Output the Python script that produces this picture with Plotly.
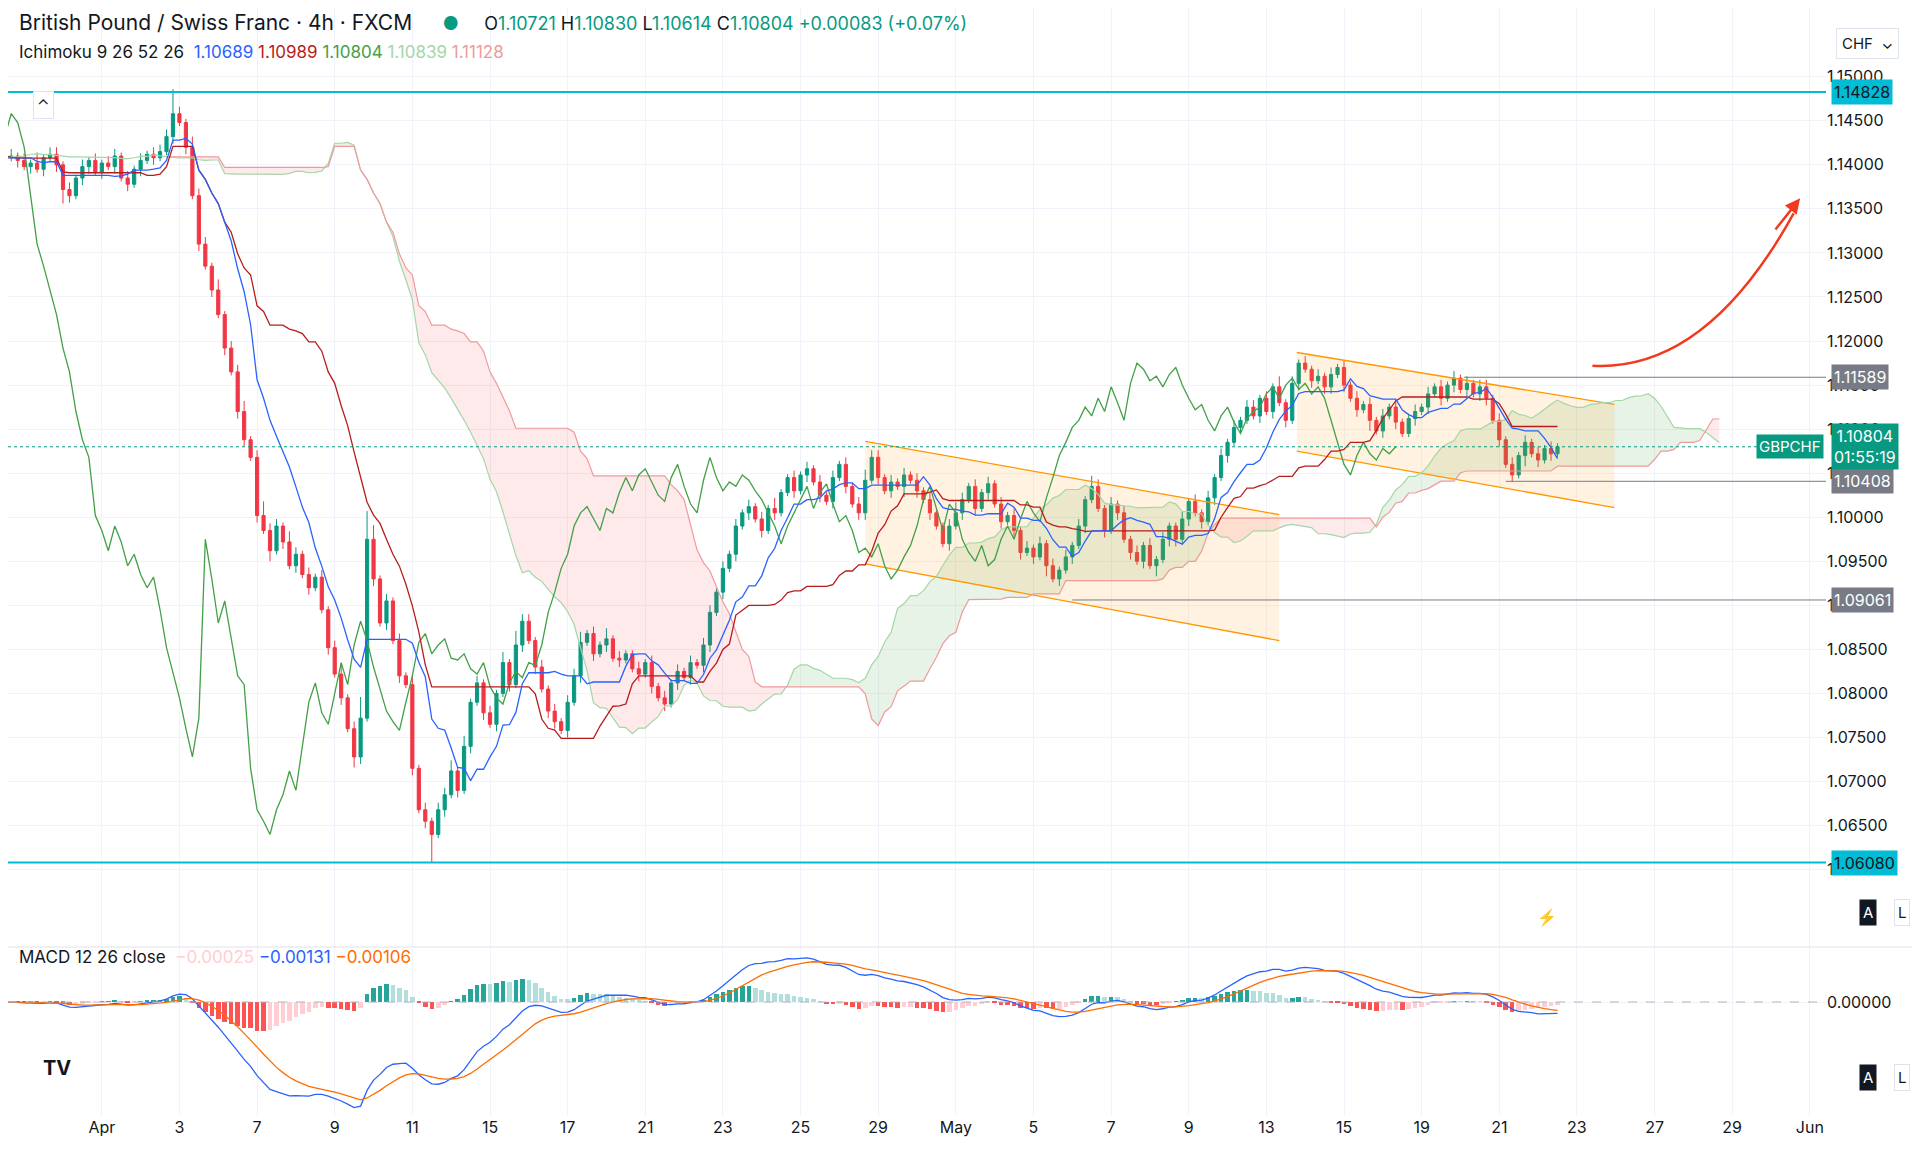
import numpy as np
import pandas as pd
import plotly.graph_objects as go

# ---- data (4h bars, GBPCHF) ----
pre_close = [1.1390, 1.1402, 1.1395, 1.1410, 1.1420, 1.1412, 1.1405, 1.1398, 1.1415, 1.1425, 1.1418, 1.1408, 1.1400,
             1.1392, 1.1405, 1.1412, 1.1420, 1.1415, 1.1402, 1.1395, 1.1388, 1.1400, 1.1410, 1.1418, 1.1425, 1.1430,
             1.1422, 1.1415, 1.1408, 1.1412, 1.1405, 1.1398, 1.1402, 1.1410, 1.1415, 1.1420, 1.1412, 1.1405, 1.1400,
             1.1395, 1.1402, 1.1408, 1.1415, 1.1410, 1.1405, 1.1412, 1.1418, 1.1410, 1.1402, 1.1398, 1.1405, 1.1408]

close = [
    1.1410, 1.1405, 1.1398, 1.1402, 1.1395, 1.1408, 1.1412, 1.1400, 1.1372, 1.1365, 1.1385, 1.1398,
    1.1405, 1.1392, 1.1402, 1.1398, 1.1410, 1.1385, 1.1378, 1.1395, 1.1405, 1.1412, 1.1408, 1.1415,
    1.1432, 1.1458, 1.1448, 1.1420, 1.1365, 1.1310, 1.1285, 1.1258, 1.1230, 1.1192, 1.1165, 1.1120,
    1.1088, 1.1068, 1.1002, 1.0985, 1.0962, 1.0990, 1.0972, 1.0945, 1.0958, 1.0935, 1.0920, 1.0932,
    1.0895, 1.0852, 1.0822, 1.0795, 1.0760, 1.0728, 1.0772, 1.0975, 1.0930, 1.0880, 1.0905, 1.0860,
    1.0820, 1.0810, 1.0715, 1.0668, 1.0655, 1.0640, 1.0668, 1.0685, 1.0712, 1.0690, 1.0740, 1.0790,
    1.0812, 1.0778, 1.0765, 1.0800, 1.0835, 1.0810, 1.0855, 1.0882, 1.0860, 1.0830, 1.0805, 1.0780,
    1.0768, 1.0758, 1.0790, 1.0820, 1.0858, 1.0868, 1.0845, 1.0855, 1.0862, 1.0840, 1.0838, 1.0845,
    1.0828, 1.0822, 1.0835, 1.0808, 1.0795, 1.0788, 1.0812, 1.0825, 1.0818, 1.0835, 1.0832, 1.0855,
    1.0892, 1.0915, 1.0942, 1.0958, 1.0990, 1.1005, 1.1012, 1.0998, 1.0985, 1.1010, 1.1005, 1.1028,
    1.1045, 1.1030, 1.1048, 1.1055, 1.1040, 1.1025, 1.1018, 1.1045, 1.1060, 1.1035, 1.1015, 1.1005,
    1.1042, 1.1068, 1.1045, 1.1030, 1.1040, 1.1035, 1.1048, 1.1042, 1.1030, 1.1020, 1.1005, 1.0990,
    1.0970, 1.0990, 1.1005, 1.1020, 1.1035, 1.1010, 1.1028, 1.1038, 1.1015, 1.0995, 1.1002, 1.0985,
    1.0960, 1.0965, 1.0955, 1.0970, 1.0945, 1.0930, 1.0940, 1.0955, 1.0968, 1.0990, 1.1020, 1.1035,
    1.1010, 1.0985, 1.1015, 1.1005, 1.0975, 1.0960, 1.0950, 1.0968, 1.0945, 1.0952, 1.0975, 1.0990,
    1.0975, 1.0998, 1.1018, 1.1005, 1.0995, 1.1022, 1.1045, 1.1070, 1.1085, 1.1102, 1.1110, 1.1125,
    1.1115, 1.1135, 1.1120, 1.1148, 1.1130, 1.1110, 1.1152, 1.1175, 1.1168, 1.1155, 1.1160, 1.1148,
    1.1162, 1.1170, 1.1150, 1.1135, 1.1122, 1.1128, 1.1110, 1.1098, 1.1115, 1.1125, 1.1108, 1.1095,
    1.1112, 1.1120, 1.1125, 1.1140, 1.1148, 1.1135, 1.1150, 1.1158, 1.1145, 1.1152, 1.1140, 1.1148,
    1.1135, 1.1110, 1.1088, 1.1060, 1.1048, 1.1070, 1.1085, 1.1072, 1.1065, 1.1078, 1.1072, 1.1080,
]

# wick sizes in units of 0.0004
pre_hi_wick = "1212121212121" "2121212121212" "1212121212121" "2121212121212"
pre_lo_wick = "2121212121212" "1212121212121" "2121212121212" "1212121212121"
hi_wick = ("212131221212" "121221212122" "272132213122" "312422132121" "212312684121"
           "213121223131" "212131422121" "212231213121" "121212121212" "212121212131"
           "121212121212" "322121212121" "123212121212" "121212121213" "212121212121"
           "121212121212" "212131212121" "212121212121" "121212121212" "212121212121")
lo_wick = ("121212124212" "212121212121" "121212121212" "212131212121" "121213212121"
           "212128121212" "121212121212" "212121212121" "121212121212" "212121212121"
           "121212121212" "212121312121" "121212121212" "212131212121" "121212121312"
           "212121212121" "121212121212" "212121312121" "121212121212" "212121312121")

x_ticks = [14 + 12 * k for k in range(23)]
x_labels = ["Apr", "3", "7", "9", "11", "15", "17", "21", "23", "25", "29", "May",
            "5", "7", "9", "13", "15", "19", "21", "23", "27", "29", "Jun"]
y_ticks = [1.060, 1.065, 1.070, 1.075, 1.080, 1.085, 1.090, 1.095, 1.100,
           1.105, 1.110, 1.115, 1.120, 1.125, 1.130, 1.135, 1.140, 1.145, 1.150]

levels_cyan = [1.14828, 1.06080]
levels_gray = [(1.11589, 224.5), (1.10408, 231), (1.09061, 164)]
channel1 = dict(x0=132, x1=196, up0=1.1086, up1=1.1003, lo0=1.0947, lo1=1.0860)
channel2 = dict(x0=198.7, x1=247.8, up0=1.1187, up1=1.1128, lo0=1.1075, lo1=1.1011)

# ---- build OHLC ----
allc = np.array(pre_close + close)
n_pre = len(pre_close)
xs = np.arange(len(allc)) - n_pre
opens = np.concatenate([[allc[0]], allc[:-1]])
hw = np.array([int(c) for c in pre_hi_wick + hi_wick]) * 0.0004
lw = np.array([int(c) for c in pre_lo_wick + lo_wick]) * 0.0004
highs = np.maximum(opens, allc) + hw
lows = np.minimum(opens, allc) - lw
df = pd.DataFrame(dict(x=xs, o=opens, h=highs, l=lows, c=allc))

def mid(p):
    return (df.h.rolling(p).max() + df.l.rolling(p).min()) / 2

tenkan = mid(9)
kijun = mid(26)
spanA = (tenkan + kijun) / 2
spanB = mid(52)
shift = 25
xf = df.x + shift

ema12 = df.c.ewm(span=12, adjust=False).mean()
ema26 = df.c.ewm(span=26, adjust=False).mean()
macd = ema12 - ema26
signal = macd.ewm(span=9, adjust=False).mean()
hist = macd - signal

UP, DN = "#089981", "#f23645"
fig = go.Figure()

# cloud fill segments
a, b, fx = spanA.values, spanB.values, xf.values
valid = ~np.isnan(a) & ~np.isnan(b)
idx = np.where(valid)[0]
segs, cur = [], [idx[0]]
for i in idx[1:]:
    if (a[i] >= b[i]) == (a[cur[-1]] >= b[cur[-1]]):
        cur.append(i)
    else:
        cur.append(i)
        segs.append(cur)
        cur = [i]
segs.append(cur)
for s in segs:
    green = a[s[0]] >= b[s[0]]
    fig.add_trace(go.Scatter(x=fx[s], y=b[s], mode="lines", line=dict(width=0), hoverinfo="skip", showlegend=False))
    fig.add_trace(go.Scatter(x=fx[s], y=a[s], mode="lines", line=dict(width=0), fill="tonexty",
                             fillcolor="rgba(67,160,71,0.13)" if green else "rgba(242,54,69,0.11)",
                             hoverinfo="skip", showlegend=False))

# channels
for ch in (channel1, channel2):
    fig.add_trace(go.Scatter(x=[ch["x0"], ch["x1"], ch["x1"], ch["x0"], ch["x0"]],
                             y=[ch["up0"], ch["up1"], ch["lo1"], ch["lo0"], ch["up0"]],
                             mode="lines", line=dict(width=0), fill="toself",
                             fillcolor="rgba(255,152,0,0.12)", showlegend=False, hoverinfo="skip"))
    for k in ("up", "lo"):
        fig.add_trace(go.Scatter(x=[ch["x0"], ch["x1"]], y=[ch[k + "0"], ch[k + "1"]], mode="lines",
                                 line=dict(color="#ff9800", width=1.3), showlegend=False, hoverinfo="skip"))

fig.add_trace(go.Scatter(x=fx, y=spanA, mode="lines", line=dict(color="#a5d6a7", width=1.2), showlegend=False))
fig.add_trace(go.Scatter(x=fx, y=spanB, mode="lines", line=dict(color="#ef9a9a", width=1.2), showlegend=False))
fig.add_trace(go.Scatter(x=df.x - shift, y=df.c, mode="lines", line=dict(color="#43a047", width=1.3), showlegend=False))
fig.add_trace(go.Scatter(x=df.x, y=kijun, mode="lines", line=dict(color="#b71c1c", width=1.3), showlegend=False))
fig.add_trace(go.Scatter(x=df.x, y=tenkan, mode="lines", line=dict(color="#2962ff", width=1.3), showlegend=False))

fig.add_trace(go.Candlestick(x=df.x, open=df.o, high=df.h, low=df.l, close=df.c,
                             increasing=dict(line=dict(color=UP, width=1), fillcolor=UP),
                             decreasing=dict(line=dict(color=DN, width=1), fillcolor=DN),
                             whiskerwidth=0, showlegend=False))

# MACD
hcol = []
for i in range(len(hist)):
    prev = hist.iloc[i - 1] if i else 0
    v = hist.iloc[i]
    if v >= 0:
        hcol.append("#26a69a" if v >= prev else "#b2dfdb")
    else:
        hcol.append("#ff5252" if v <= prev else "#ffcdd2")
fig.add_trace(go.Bar(x=df.x, y=hist, marker=dict(color=hcol, line=dict(width=0)), width=0.7,
                     xaxis="x2", yaxis="y2", showlegend=False))
fig.add_trace(go.Scatter(x=df.x, y=macd, mode="lines", line=dict(color="#2962ff", width=1.3),
                         xaxis="x2", yaxis="y2", showlegend=False))
fig.add_trace(go.Scatter(x=df.x, y=signal, mode="lines", line=dict(color="#ff6d00", width=1.3),
                         xaxis="x2", yaxis="y2", showlegend=False))
m_lo = min(macd.min(), signal.min()) * 1.08
m_hi = -m_lo * 55 / 114

shapes = []
for lv in levels_cyan:
    shapes.append(dict(type="line", xref="paper", x0=0, x1=1, y0=lv, y1=lv, line=dict(color="#00bcd4", width=2)))
for lv, x0 in levels_gray:
    shapes.append(dict(type="line", xref="x", x0=x0, x1=280.5, y0=lv, y1=lv, line=dict(color="#787b86", width=1)))
shapes.append(dict(type="line", xref="paper", x0=0, x1=1, y0=close[-1], y1=close[-1],
                   line=dict(color=UP, width=1, dash="dot")))
shapes.append(dict(type="line", xref="x2", yref="y2", x0=-0.5, x1=280.5, y0=0, y1=0,
                   line=dict(color="#b2b5be", width=1, dash="dash")))
shapes.append(dict(type="line", xref="paper", yref="paper", x0=0, x1=1.06, y0=0.1525, y1=0.1525,
                   line=dict(color="#e0e3eb", width=1)))
shapes.append(dict(type="path", xref="x", yref="y", path="M 244.4,1.1172 Q 262,1.1165 275.5,1.1345",
                   line=dict(color="#f23a1f", width=2.5)))
fig.update_layout(shapes=shapes)

ann = []
def tag(y, text, bg, fc="white", yref="y"):
    ann.append(dict(xref="paper", x=1.003, y=y, yref=yref, text=text, showarrow=False, xanchor="left",
                    bgcolor=bg, font=dict(color=fc, size=16), borderpad=2))
tag(1.14828, "1.14828", "#00bcd4", "#131722")
tag(1.06080, "1.06080", "#00bcd4", "#131722")
for lv, _ in levels_gray:
    tag(lv, f"{lv:.5f}", "#787b86")
tag(close[-1], "1.10804<br>01:55:19", UP)
ann.append(dict(xref="paper", x=0.999, y=close[-1], text="GBPCHF", showarrow=False, xanchor="right",
                bgcolor=UP, font=dict(color="white", size=15), borderpad=2))
ann.append(dict(x=276.5, y=1.1362, ax=272.5, ay=1.1325, xref="x", yref="y", axref="x", ayref="y", text="",
                showarrow=True, arrowhead=2, arrowsize=1.2, arrowwidth=2.5, arrowcolor="#f23a1f"))
g = "#089981"
ann.append(dict(xref="paper", yref="paper", x=0.005, y=1.0, xanchor="left", yanchor="top", showarrow=False,
                align="left",
                text=("<span style='font-size:21px;color:#131722'>British Pound / Swiss Franc · 4h · FXCM</span>"
                      "      <span style='color:#089981'>●</span>     "
                      f"O<span style='color:{g}'>1.10721</span> H<span style='color:{g}'>1.10830</span> "
                      f"L<span style='color:{g}'>1.10614</span> C<span style='color:{g}'>1.10804</span> "
                      f"<span style='color:{g}'>+0.00083 (+0.07%)</span>"),
                font=dict(size=18, color="#131722")))
ann.append(dict(xref="paper", yref="paper", x=0.005, y=0.9715, xanchor="left", showarrow=False,
                text=("Ichimoku 9 26 52 26  <span style='color:#2962ff'>1.10689</span> "
                      "<span style='color:#b71c1c'>1.10989</span> <span style='color:#43a047'>1.10804</span> "
                      "<span style='color:#a5d6a7'>1.10839</span> <span style='color:#ef9a9a'>1.11128</span>"),
                font=dict(size=17, color="#131722")))
ann.append(dict(xref="paper", yref="paper", x=0.005, y=1 - 961 / 1108, xanchor="left", showarrow=False,
                text=("MACD 12 26 close  <span style='color:#ffcdd2'>−0.00025</span> "
                      "<span style='color:#2962ff'>−0.00131</span> <span style='color:#ff6d00'>−0.00106</span>"),
                font=dict(size=17, color="#131722")))
ann.append(dict(xref="paper", yref="paper", x=0.014, y=1 - 83 / 1108, showarrow=False, text="⌃",
                font=dict(size=16, color="#131722"), bordercolor="#e0e3eb", borderpad=3, bgcolor="white"))
ann.append(dict(xref="paper", yref="paper", x=0.018, y=1 - 1074 / 1108, showarrow=False, text="<b>TV</b>",
                font=dict(size=20, color="#131722")))
for yy in (918, 1083):
    ann.append(dict(xref="paper", yref="paper", x=1.028, y=1 - yy / 1108, showarrow=False, text="A",
                    bgcolor="#131722", font=dict(color="white", size=15), borderpad=3))
    ann.append(dict(xref="paper", yref="paper", x=1.046, y=1 - yy / 1108, showarrow=False, text="L",
                    bgcolor="white", bordercolor="#e0e3eb", font=dict(color="#131722", size=15), borderpad=3))
ann.append(dict(xref="paper", yref="paper", x=1.04, y=1 - 20 / 1108, showarrow=False, text="CHF  ⌄",
                bordercolor="#e0e3eb", borderpad=5, font=dict(size=15, color="#131722")))
ann.append(dict(xref="paper", yref="paper", x=0.853, y=1 - 921 / 1108, showarrow=False, text="⚡",
                font=dict(size=16, color="#9c27b0")))
fig.update_layout(annotations=ann)

axis_common = dict(showgrid=True, gridcolor="#f0f3fa", zeroline=False, showline=False)
fig.update_layout(
    width=1920, height=1151, paper_bgcolor="white", plot_bgcolor="white",
    margin=dict(l=0, r=102, t=0, b=43), font=dict(family="Inter, Roboto, sans-serif", color="#131722"),
    xaxis=dict(domain=[0, 1], range=[-0.5, 280.5], anchor="y", tickvals=x_ticks, showticklabels=False,
               rangeslider=dict(visible=False), **axis_common),
    yaxis=dict(domain=[0.1525, 1], range=[1.05122, 1.15780], side="right", tickvals=y_ticks, tickformat=".5f",
               tickfont=dict(size=16), ticks="", **axis_common),
    xaxis2=dict(domain=[0, 1], range=[-0.5, 280.5], anchor="y2", tickvals=x_ticks, ticktext=x_labels,
                tickfont=dict(size=16), **axis_common),
    yaxis2=dict(domain=[0, 0.1525], range=[m_lo, m_hi], side="right", tickvals=[0],
                tickformat=".5f", tickfont=dict(size=16), **axis_common),
    bargap=0,
)
fig.write_html("out.html")
